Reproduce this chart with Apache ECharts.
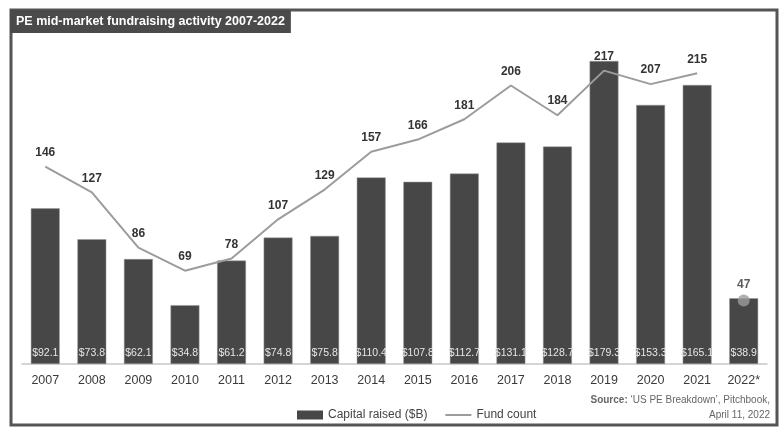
<!DOCTYPE html>
<html>
<head>
    <meta charset="utf-8">
    <title>PE mid-market fundraising activity</title>
    <script src="https://cdn.jsdelivr.net/npm/echarts@6/dist/echarts.min.js"></script>
    <style>
        html, body { margin: 0; padding: 0; background: #fff; }
    </style>
</head>
<body>
    <div id="chart" style="width: 783px;height:428px;"></div>
    <script type="text/javascript">
// data
var years = ['2007', '2008', '2009', '2010', '2011', '2012', '2013', '2014', '2015',
             '2016', '2017', '2018', '2019', '2020', '2021', '2022*'];
var capitalRaised = [92.1, 73.8, 62.1, 34.8, 61.2, 74.8, 75.8, 110.4, 107.8,
                     112.7, 131.1, 128.7, 179.3, 153.3, 165.1, 38.9];
var fundCount = [146, 127, 86, 69, 78, 107, 129, 157, 166,
                 181, 206, 184, 217, 207, 215, 47];

var font = 'Liberation Sans';
var last = years.length - 1;

// line stops at 2021, 2022* is shown as a lone dot
var lineData = fundCount.map(function (v, i) { return i < last ? v : null; });
var dotData = fundCount.map(function (v, i) { return i === last ? v : null; });

var chart = echarts.init(document.getElementById('chart'));

var option = {
    animation: false,
    textStyle: { fontFamily: font },
    title: {
        text: 'PE mid-market fundraising activity 2007-2022',
        left: 10,
        top: 10,
        padding: [5, 6, 5, 6],
        backgroundColor: '#4a4a4a',
        textStyle: { color: '#fff', fontSize: 12.5, fontWeight: 'bold', fontFamily: font }
    },
    graphic: [
        {
            type: 'rect',
            shape: { x: 11, y: 10, width: 766, height: 415 },
            style: { fill: 'none', stroke: '#555', lineWidth: 3 },
            z: -1
        },
        {
            type: 'text',
            style: {
                x: 770, y: 395,
                text: '{b|Source:} \u2018US PE Breakdown\u2019, Pitchbook,',
                textAlign: 'right',
                fill: '#666',
                font: '10px ' + font,
                rich: { b: { fontWeight: 'bold', fill: '#666', fontSize: 10, fontFamily: font } }
            }
        },
        {
            type: 'text',
            style: {
                x: 770, y: 410,
                text: 'April 11, 2022',
                textAlign: 'right',
                fill: '#666',
                font: '10px ' + font
            }
        }
    ],
    legend: {
        bottom: 2,
        left: 292,
        itemGap: 18,
        itemWidth: 26,
        itemHeight: 9,
        textStyle: { color: '#444', fontSize: 12, fontFamily: font },
        data: [
            { name: 'Capital raised ($B)', icon: 'rect', itemStyle: { borderWidth: 0 } },
            { name: 'Fund count', icon: 'path://M0,0H26V2H0Z', itemStyle: { color: '#9c9c9c' } }
        ]
    },
    grid: { left: 22, right: 16, top: 26, bottom: 64 },
    xAxis: {
        type: 'category',
        data: years,
        axisTick: { show: false },
        axisLine: { lineStyle: { color: '#c8c8c8', width: 1.5 } },
        axisLabel: { color: '#3a3a3a', fontSize: 12.5, margin: 10, fontFamily: font }
    },
    yAxis: [
        { type: 'value', min: 0, max: 200, show: false, splitLine: { show: false } },
        { type: 'value', min: 0, max: 250, show: false, splitLine: { show: false } }
    ],
    series: [
        {
            name: 'Capital raised ($B)',
            type: 'bar',
            data: capitalRaised,
            barWidth: '62%',
            itemStyle: { color: '#474747', borderColor: '#9a9a9a', borderWidth: 0.5 },
            label: {
                show: true,
                position: 'insideBottom',
                distance: 5,
                color: '#e6e6e6',
                fontSize: 10.5,
                fontFamily: font,
                formatter: function (p) { return '$' + p.value.toFixed(1); }
            }
        },
        {
            name: 'Fund count',
            type: 'line',
            yAxisIndex: 1,
            data: lineData,
            symbol: 'circle',
            symbolSize: 0.1,
            lineStyle: { color: '#9c9c9c', width: 2 },
            itemStyle: { color: '#9c9c9c' },
            label: {
                show: true,
                position: 'top',
                distance: 8,
                color: '#333',
                fontSize: 12,
                fontWeight: 'bold',
                fontFamily: font
            },
            z: 3
        },
        {
            name: 'Fund count dot',
            type: 'scatter',
            yAxisIndex: 1,
            data: dotData,
            symbolSize: 12,
            itemStyle: { color: '#9c9c9c' },
            label: {
                show: true,
                position: 'top',
                distance: 4,
                color: '#333',
                fontSize: 12,
                fontWeight: 'bold',
                fontFamily: font
            },
            z: 4
        }
    ]
};

chart.setOption(option);
    </script>
</body>
</html>
